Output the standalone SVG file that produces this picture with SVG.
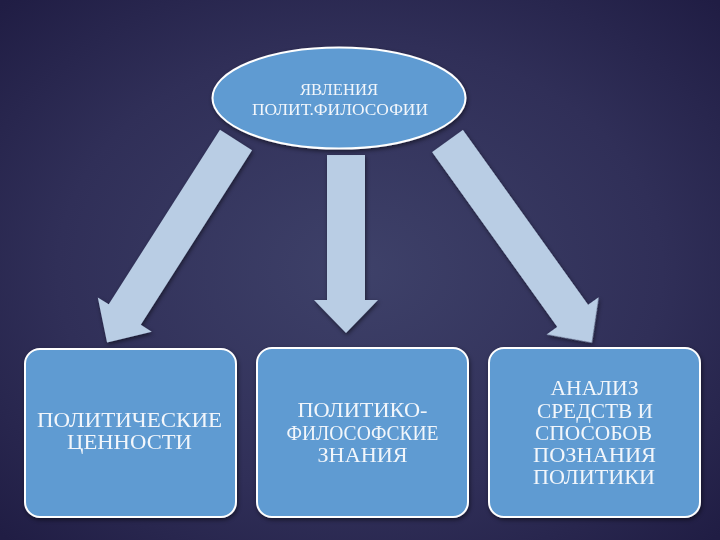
<svg xmlns="http://www.w3.org/2000/svg" width="720" height="540" viewBox="0 0 720 540">
<defs>
<radialGradient id="bg" cx="0.5" cy="0.5" r="0.7">
<stop offset="0" stop-color="#3e4169"/>
<stop offset="0.6" stop-color="#302f58"/>
<stop offset="1" stop-color="#201d44"/>
</radialGradient>
<filter id="sh" x="-20%" y="-20%" width="140%" height="140%">
<feGaussianBlur in="SourceAlpha" stdDeviation="2"/>
<feOffset dx="1" dy="2" result="b"/>
<feComponentTransfer><feFuncA type="linear" slope="0.5"/></feComponentTransfer>
<feMerge><feMergeNode/><feMergeNode in="SourceGraphic"/></feMerge>
</filter>
</defs>
<style>
.node{fill:#5e9bd2;stroke:#ffffff;stroke-width:2}
.arrow{fill:#b9cde4}
.t{font-family:"Liberation Serif","DejaVu Serif",serif;fill:#f2f6fb;text-anchor:middle}
.s{font-size:16px}
.b{font-size:20.5px}
.c{font-size:20px}
</style>
<rect width="720" height="540" fill="url(#bg)"/>
<g id="connectors" filter="url(#sh)">
<path class="arrow" transform="translate(236,140) rotate(32.5)" d="M-19,0 L19,0 L19,207 L32,207 L0,240 L-32,207 L-19,207 Z"/>
<path class="arrow" transform="translate(346,155)" d="M-19,0 L19,0 L19,145 L32,145 L0,178 L-32,145 L-19,145 Z"/>
<path class="arrow" transform="translate(447.5,141) rotate(-35.6)" d="M-19,0 L19,0 L19,215 L32,215 L0,248 L-32,215 L-19,215 Z"/>
</g>
<g id="top" filter="url(#sh)">
<ellipse class="node" cx="339" cy="98" rx="126.5" ry="50.5"/>
<text class="t s" x="339" y="95" textLength="78" lengthAdjust="spacingAndGlyphs">ЯВЛЕНИЯ</text>
<text class="t s" x="340" y="115" textLength="176" lengthAdjust="spacingAndGlyphs">ПОЛИТ.ФИЛОСОФИИ</text>
</g>
<g id="box1" filter="url(#sh)">
<rect class="node" x="25" y="349" width="211" height="168" rx="15"/>
<text class="t c" x="129.5" y="427" textLength="185" lengthAdjust="spacingAndGlyphs">ПОЛИТИЧЕСКИЕ</text>
<text class="t c" x="129.5" y="449" textLength="125" lengthAdjust="spacingAndGlyphs">ЦЕННОСТИ</text>
</g>
<g id="box2" filter="url(#sh)">
<rect class="node" x="257" y="348" width="211" height="169" rx="15"/>
<text class="t b" x="362.5" y="417" textLength="130" lengthAdjust="spacingAndGlyphs">ПОЛИТИКО-</text>
<text class="t b" x="362.5" y="440" textLength="152" lengthAdjust="spacingAndGlyphs">ФИЛОСОФСКИЕ</text>
<text class="t b" x="362.5" y="462" textLength="90" lengthAdjust="spacingAndGlyphs">ЗНАНИЯ</text>
</g>
<g id="box3" filter="url(#sh)">
<rect class="node" x="489" y="348" width="211" height="169" rx="15"/>
<text class="t b" x="594.5" y="395" textLength="88" lengthAdjust="spacingAndGlyphs">АНАЛИЗ</text>
<text class="t b" x="595" y="418" textLength="116" lengthAdjust="spacingAndGlyphs">СРЕДСТВ И</text>
<text class="t b" x="593.5" y="440" textLength="117" lengthAdjust="spacingAndGlyphs">СПОСОБОВ</text>
<text class="t b" x="594.5" y="462" textLength="123" lengthAdjust="spacingAndGlyphs">ПОЗНАНИЯ</text>
<text class="t b" x="594" y="484" textLength="122" lengthAdjust="spacingAndGlyphs">ПОЛИТИКИ</text>
</g>
</svg>
